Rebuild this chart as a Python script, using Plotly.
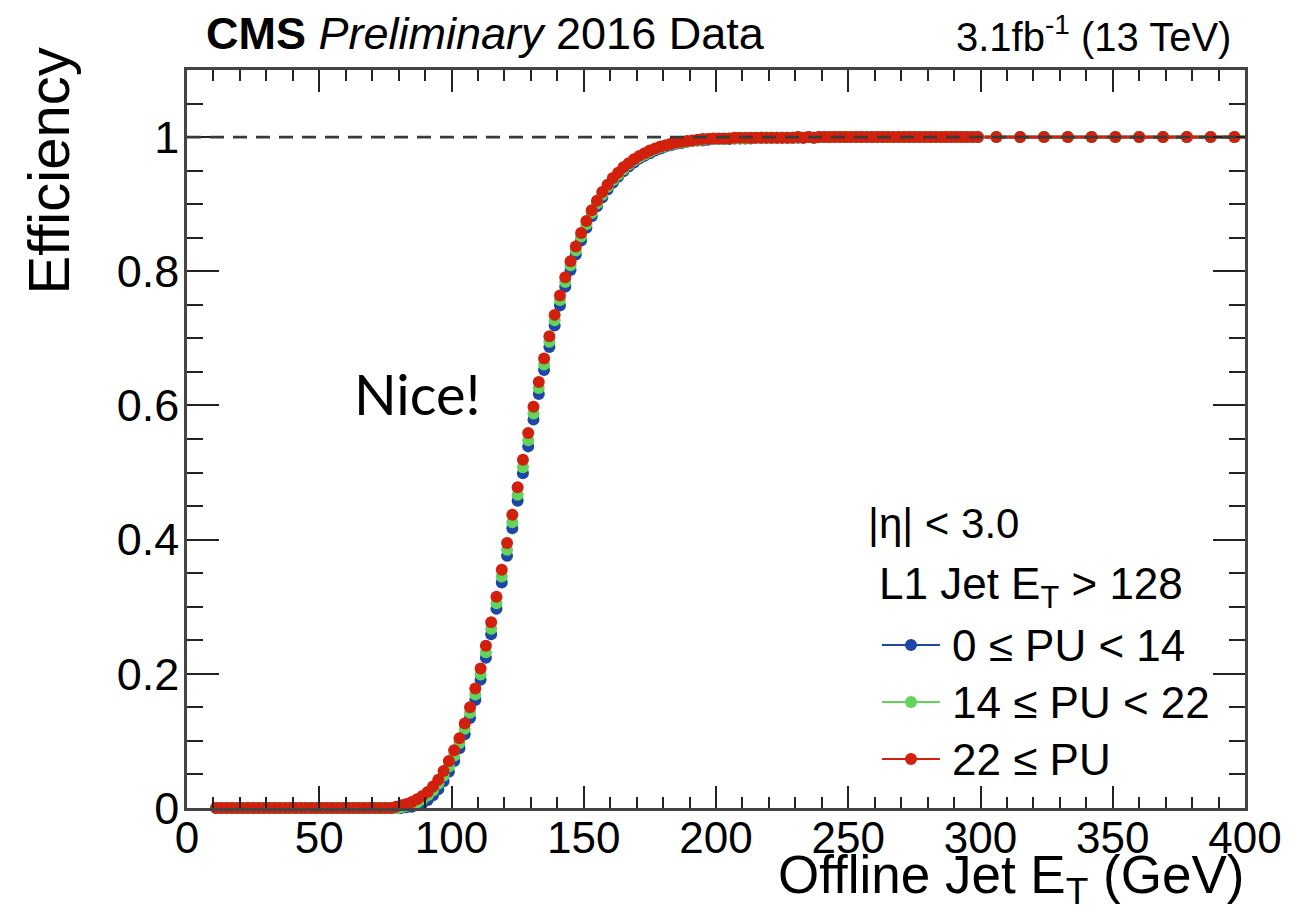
import plotly.graph_objects as go

# ---------------- data ----------------
ET_BINS = [11, 13, 15, 17, 19, 21, 23, 25, 27, 29, 31, 33, 35, 37, 39, 41, 43, 45, 47, 49,
           51, 53, 55, 57, 59, 61, 63, 65, 67, 69, 71, 73, 75, 77, 79, 81, 83, 85, 87, 89,
           91, 93, 95, 97, 99, 101, 103, 105, 107, 109, 111, 113, 115, 117, 119, 121, 123, 125, 127, 129,
           131, 133, 135, 137, 139, 141, 143, 145, 147, 149, 151, 153, 155, 157, 159, 161, 163, 165, 167, 169,
           171, 173, 175, 177, 179, 181, 183, 185, 187, 189, 191, 193, 195, 197, 199, 201, 203, 205, 207, 209,
           211, 213, 215, 217, 219, 221, 223, 225, 227, 229, 231, 233, 235, 237, 239, 241, 243, 245, 247, 249,
           251, 253, 255, 257, 259, 261, 263, 265, 267, 269, 271, 273, 275, 277, 279, 281, 283, 285, 287, 289,
           291, 293, 295, 297, 299, 306, 315, 324, 333, 342, 351, 360, 369, 378, 387, 396]

# half bin widths (horizontal error bars)
ET_HALF_WIDTH = [1] * 145 + [4.5] * 11

EFF_PU_LOW = [  # 0 <= PU < 14
    0, 0, 0, 0, 0, 0, 0, 0, 0, 0, 0, 0, 0, 0, 0, 0, 0, 0, 0, 0,
    0, 0, 0, 0, 0, 0, 0, 0, 0, 0, 0, 0, 0, 0, 0, 0,
    0.001, 0.002, 0.004, 0.007, 0.012, 0.019, 0.028, 0.040, 0.054,
    0.070, 0.089, 0.110, 0.134, 0.161, 0.191, 0.224, 0.259, 0.297, 0.336,
    0.376, 0.417, 0.458, 0.499, 0.539, 0.579, 0.617, 0.653, 0.687, 0.719,
    0.749, 0.777, 0.802, 0.825, 0.846, 0.865, 0.882, 0.897, 0.910, 0.922,
    0.932, 0.941, 0.949, 0.956, 0.962, 0.968, 0.972, 0.976, 0.980, 0.983,
    0.986, 0.988, 0.990, 0.991, 0.993, 0.994, 0.995, 0.995, 0.996, 0.997,
    0.997, 0.997, 0.997, 0.998, 0.998, 0.998, 0.998, 0.999, 0.999, 0.999,
    0.999, 0.999, 0.999, 0.999, 0.999, 0.999, 0.999, 1.0, 0.999, 1.0,
    1.0, 1.0, 1.0, 1.0, 1.0, 1.0, 1.0, 1.0, 1.0, 1.0,
    1.0, 1.0, 1.0, 1.0, 1.0, 1.0, 1.0, 1.0, 1.0, 1.0,
    1.0, 1.0, 1.0, 1.0, 1.0, 1.0, 1.0, 1.0, 1.0, 1.0,
    1.0, 1.0, 1.0, 1.0, 1.0, 1.0, 1.0, 1.0, 1.0, 1.0, 1.0]

EFF_PU_MID = [  # 14 <= PU < 22
    0, 0, 0, 0, 0, 0, 0, 0, 0, 0, 0, 0, 0, 0, 0, 0, 0, 0, 0, 0,
    0, 0, 0, 0, 0, 0, 0, 0, 0, 0, 0, 0, 0, 0, 0,
    0.001, 0.003, 0.005, 0.008, 0.013, 0.019, 0.026, 0.036, 0.048, 0.062,
    0.078, 0.097, 0.118, 0.142, 0.169, 0.199, 0.232, 0.267, 0.305, 0.345,
    0.385, 0.426, 0.467, 0.508, 0.548, 0.588, 0.626, 0.661, 0.695, 0.727,
    0.757, 0.784, 0.809, 0.831, 0.852, 0.870, 0.887, 0.901, 0.914, 0.926,
    0.936, 0.944, 0.952, 0.959, 0.965, 0.970, 0.974, 0.978, 0.982, 0.985,
    0.987, 0.989, 0.991, 0.992, 0.993, 0.994, 0.995, 0.996, 0.997, 0.997,
    0.997, 0.997, 0.998, 0.998, 0.998, 0.998, 0.999, 0.999, 0.999, 0.999,
    0.999, 0.999, 0.999, 0.999, 0.999, 1.0, 0.999, 1.0, 0.999, 1.0,
    1.0, 1.0, 1.0, 1.0, 1.0, 1.0, 1.0, 1.0, 1.0, 1.0,
    1.0, 1.0, 1.0, 1.0, 1.0, 1.0, 1.0, 1.0, 1.0, 1.0,
    1.0, 1.0, 1.0, 1.0, 1.0, 1.0, 1.0, 1.0, 1.0, 1.0,
    1.0, 1.0, 1.0, 1.0, 1.0, 1.0, 1.0, 1.0, 1.0, 1.0, 1.0]

EFF_PU_HIGH = [  # 22 <= PU
    0, 0, 0, 0, 0, 0, 0, 0, 0, 0, 0, 0, 0, 0, 0, 0, 0, 0, 0, 0,
    0, 0, 0, 0, 0, 0, 0, 0, 0, 0, 0, 0, 0, 0,
    0.002, 0.004, 0.006, 0.009, 0.013, 0.018, 0.024, 0.032, 0.042, 0.055, 0.070,
    0.086, 0.104, 0.126, 0.150, 0.178, 0.208, 0.242, 0.277, 0.315, 0.355,
    0.395, 0.437, 0.478, 0.519, 0.559, 0.598, 0.635, 0.670, 0.703, 0.735,
    0.764, 0.791, 0.815, 0.837, 0.857, 0.875, 0.891, 0.905, 0.918, 0.929,
    0.939, 0.947, 0.955, 0.961, 0.967, 0.972, 0.976, 0.980, 0.983, 0.986,
    0.988, 0.990, 0.992, 0.993, 0.994, 0.995, 0.996, 0.997, 0.997, 0.998,
    0.998, 0.998, 0.998, 0.999, 0.999, 0.999, 0.999, 0.999, 0.999, 0.999,
    0.999, 0.999, 0.999, 0.999, 0.999, 1.0, 0.999, 1.0, 0.999, 1.0,
    1.0, 1.0, 1.0, 1.0, 1.0, 1.0, 1.0, 1.0, 1.0, 1.0,
    1.0, 1.0, 1.0, 1.0, 1.0, 1.0, 1.0, 1.0, 1.0, 1.0,
    1.0, 1.0, 1.0, 1.0, 1.0, 1.0, 1.0, 1.0, 1.0, 1.0,
    1.0, 1.0, 1.0, 1.0, 1.0, 1.0, 1.0, 1.0, 1.0, 1.0, 1.0]

SERIES_NAMES = ["0 ≤ PU < 14", "14 ≤ PU < 22", "22 ≤ PU"]
SERIES_COLORS = ["#1e46a8", "#62d45c", "#d1200c"]
REF_LEVEL = 1.0
X_RANGE = [0, 400]
Y_RANGE = [0, 1.1]

# ---------------- layout geometry (pixels) ----------------
W, H = 1309, 919
L, R, T, B = 187, 1245, 70, 808


def px(xp):
    return (xp - L) / (R - L)


def py(yp):
    return (B - yp) / (B - T)


FONT = "Liberation Sans, Arial, Helvetica, sans-serif"

fig = go.Figure()
for name, vals, col in zip(SERIES_NAMES, [EFF_PU_LOW, EFF_PU_MID, EFF_PU_HIGH], SERIES_COLORS):
    fig.add_trace(go.Scatter(
        x=ET_BINS, y=vals, mode="markers", name=name, showlegend=False,
        cliponaxis=False,
        error_x=dict(type="data", array=ET_HALF_WIDTH, color=col, thickness=3, width=0),
        marker=dict(color=col, size=12, line=dict(width=0)),
    ))

fig.add_hline(y=REF_LEVEL, line=dict(color="#3a3a3a", width=2.6, dash="14px,9px"), layer="above")

tick_col = "#222222"
axis_common = dict(
    showgrid=False, zeroline=False, showline=True, linecolor="#444444", linewidth=2.5,
    mirror="ticks", ticks="inside", tickcolor=tick_col, tickwidth=2,
)
fig.update_xaxes(range=X_RANGE, dtick=50, tick0=0, ticklen=22, ticklabelstandoff=-11,
                 tickfont=dict(family=FONT, size=44, color="black"),
                 minor=dict(dtick=10, ticklen=11, ticks="inside", tickcolor=tick_col, tickwidth=2),
                 **axis_common)
fig.update_yaxes(range=Y_RANGE, tickvals=[0, 0.2, 0.4, 0.6, 0.8, 1],
                 ticktext=["0", "0.2", "0.4", "0.6", "0.8", "1"], ticklen=32, ticklabelstandoff=-4,
                 tickfont=dict(family=FONT, size=45, color="black"),
                 minor=dict(dtick=0.05, tick0=0, ticklen=16, ticks="inside", tickcolor=tick_col, tickwidth=2),
                 **axis_common)

annotations = []


def text(x, y, s, size, xanchor="left", yanchor="middle", font=FONT, angle=0):
    annotations.append(dict(
        x=px(x), y=py(y), xref="paper", yref="paper", text=s, showarrow=False,
        xanchor=xanchor, yanchor=yanchor, textangle=angle,
        font=dict(family=font, size=size, color="black"),
    ))


text(204, 34, "<b>CMS</b> <i>Preliminary</i> 2016 Data", 45)
text(1233, 34, "3.1fb<sup>-1</sup> (13 TeV)", 40, xanchor="right")
text(1246, 879, "Offline Jet E<sub>T</sub> (GeV)", 53, xanchor="right")
text(48, 46, "Efficiency", 58, xanchor="center", yanchor="top", angle=-90)
text(352, 394, "Nice!", 56, font="Lato, 'Open Sans', sans-serif")
text(866, 523, "|η| < 3.0", 42)
text(877, 587, "L1 Jet E<sub>T</sub> > 128", 44)

shapes = []
entry_y = [645, 702, 759]
for name, col, yy in zip(SERIES_NAMES, SERIES_COLORS, entry_y):
    shapes.append(dict(type="line", xref="paper", yref="paper",
                       x0=px(882), x1=px(940), y0=py(yy), y1=py(yy),
                       line=dict(color=col, width=2)))
    shapes.append(dict(type="circle", xref="paper", yref="paper",
                       x0=px(905), x1=px(917), y0=py(yy + 6), y1=py(yy - 6),
                       fillcolor=col, line=dict(width=0)))
    text(950, yy, name, 44)

for s in shapes:
    fig.add_shape(**s)

fig.update_layout(
    width=W, height=H, margin=dict(l=L, r=W - R, t=T, b=H - B, pad=0),
    plot_bgcolor="white", paper_bgcolor="white",
    annotations=annotations, showlegend=False,
)

fig.write_html("out.html")
